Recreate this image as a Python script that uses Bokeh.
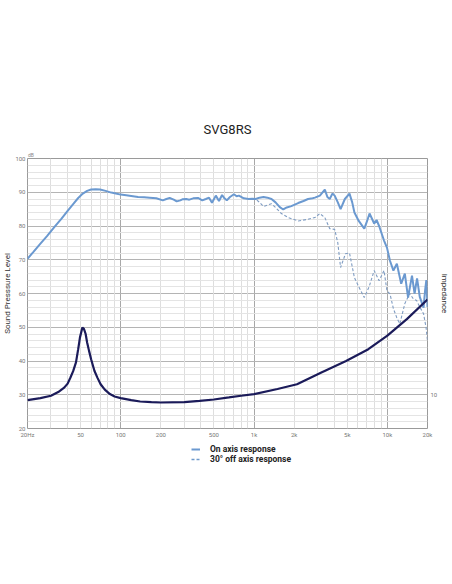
from bokeh.plotting import figure
from bokeh.layouts import column
from bokeh.models import (Range1d, FixedTicker, LinearAxis, LogAxis, Grid, Legend, LegendItem, Title)
from bokeh.embed import file_html
from bokeh.resources import INLINE

# ---------------- data ----------------
title_text = "SVG8RS"

on_freq = [20, 22, 25, 28, 32, 36, 40, 44, 48, 52, 56, 60, 65, 70, 77, 85, 92, 100, 110, 120,
           135, 150, 165, 185, 207, 220, 233, 250, 263, 280, 290, 310, 327, 350, 380, 409, 435,
           460, 484, 517, 546, 576, 600, 625, 660, 707, 740, 770, 838, 910, 970, 1028, 1100,
           1178, 1260, 1352, 1450, 1560, 1656, 1760, 1904, 2143, 2350, 2541, 2750, 2862, 3118,
           3396, 3550, 3697, 3870, 4026, 4250, 4458, 4800, 5200, 5450, 5662, 6100, 6714, 7050,
           7350, 7700, 7962, 8300, 8670, 9440, 9932, 10460, 11100, 11780, 12700, 13520, 14300,
           15300, 16000, 16700, 17500, 18680, 19200, 19600, 20000]
on_spl = [70.3, 72.2, 74.8, 77.0, 79.8, 82.2, 84.5, 86.5, 88.3, 89.6, 90.4, 90.8, 90.9, 90.8,
          90.4, 89.9, 89.6, 89.3, 89.1, 88.9, 88.6, 88.5, 88.4, 88.2, 87.6, 88.0, 88.3, 87.8,
          87.3, 87.6, 87.9, 88.0, 87.8, 88.2, 88.3, 87.6, 88.0, 88.4, 86.9, 89.0, 87.4, 89.2,
          88.2, 87.6, 88.6, 89.4, 88.8, 89.0, 88.2, 88.0, 88.1, 88.0, 88.4, 88.6, 88.4, 88.0,
          87.0, 85.6, 84.9, 85.5, 85.9, 86.8, 87.4, 88.0, 88.2, 88.4, 89.0, 90.8, 88.6, 88.0,
          89.6, 89.0, 87.0, 85.0, 88.0, 89.6, 87.0, 84.0, 81.5, 79.2, 81.5, 83.7, 82.0, 80.7,
          81.8, 80.0, 75.7, 73.6, 69.7, 66.8, 68.8, 62.9, 65.9, 58.8, 65.3, 60.0, 64.5, 59.0,
          55.8, 61.0, 64.0, 56.0]

off_freq = [970, 1028, 1100, 1178, 1260, 1352, 1450, 1603, 1806, 2143, 2541, 2862, 3118, 3396,
            3697, 4026, 4250, 4458, 4854, 5200, 5662, 6100, 6714, 7300, 7962, 8670, 9440, 9932,
            10460, 11100, 11780, 12400, 13520, 14720, 15600, 16580, 17500, 18680, 19500, 20000]
off_spl = [88.1, 88.0, 87.0, 85.8, 86.2, 86.6, 85.5, 83.7, 82.5, 81.5, 82.0, 82.5, 83.7, 82.5,
           79.2, 79.0, 75.0, 67.7, 71.8, 72.0, 64.7, 62.0, 58.8, 62.0, 66.8, 63.8, 66.8, 60.8,
           59.9, 55.5, 52.8, 51.0, 57.0, 60.0, 58.5, 57.9, 56.0, 54.0, 50.0, 46.0]

imp_freq = [20, 25, 30, 34, 37.7, 40, 42, 44, 46.2, 48, 49.5, 51.6, 53, 54.6, 56, 57.9, 60,
            63.5, 67, 70.7, 76, 83, 90, 100, 120, 140, 170, 200, 300, 390, 500, 648, 800, 1000,
            1500, 2100, 3200, 4900, 7200, 10000, 14000, 20000]
imp_ohm = [8.4, 9.0, 9.7, 10.8, 12.1, 13.3, 15.1, 17.0, 19.6, 23.5, 27.0, 29.9, 29.5, 28.0,
           25.5, 23.0, 20.5, 17.1, 15.0, 13.1, 11.5, 10.2, 9.5, 9.0, 8.4, 8.0, 7.8, 7.7, 7.8,
           8.2, 8.6, 9.2, 9.7, 10.2, 11.7, 13.1, 16.6, 20.0, 23.5, 27.5, 32.4, 38.2]

x_ticks = [20, 50, 100, 200, 500, 1000, 2000, 5000, 10000, 20000]
x_tick_labels = ["20Hz", "50", "100", "200", "500", "1k", "2k", "5k", "10k", "20k"]
x_major_grid = [100, 1000, 10000]
x_minor_grid = [30, 40, 50, 60, 70, 80, 90, 200, 300, 400, 500, 600, 700, 800, 900,
                2000, 3000, 4000, 5000, 6000, 7000, 8000, 9000]
y_ticks = [20, 30, 40, 50, 60, 70, 80, 90, 100]
y_minor_grid = [v for v in range(22, 100, 2) if v % 10 != 0]
imp_ticks = [10]
unit_tick = [21.2]
unit_label = "dB"

series_names = ["On axis response", "30° off axis response"]
spl_label = "Sound Presssure Level"
imp_label = "Impedance"

# ---------------- styles ----------------
FONT = "Roboto"
ON_STYLE = dict(line_color="#6b99d0", line_width=2.0)
OFF_STYLE = dict(line_color="#7f9cc2", line_width=1.1, line_dash="3 2")
IMP_STYLE = dict(line_color="#1b1b5a", line_width=2.2)

# ---------------- main figure ----------------
p = figure(width=452, height=440, x_axis_type="log",
           x_range=Range1d(20, 20000), y_range=Range1d(20, 100),
           output_backend="svg", toolbar_location=None,
           min_border_left=26, min_border_right=20, min_border_top=158, min_border_bottom=12)
p.extra_y_ranges = {"imp": Range1d(0, 80)}
p.background_fill_color = "white"
p.border_fill_color = "white"
p.outline_line_color = "#9a9a9a"
p.outline_line_width = 1

p.title = Title(text=title_text, align="center", text_font=FONT, text_font_size="13px",
                text_color="#222222", text_font_style="normal", standoff=24, offset=0)

# grids
p.xgrid.ticker = FixedTicker(ticks=x_major_grid)
p.xgrid.grid_line_color = "#a8a8a8"
p.ygrid.ticker = FixedTicker(ticks=y_ticks)
p.ygrid.grid_line_color = "#b4b4b4"
p.add_layout(Grid(dimension=0, ticker=FixedTicker(ticks=x_minor_grid),
                  grid_line_color="#dedede", grid_line_width=1, level="underlay"))
p.add_layout(Grid(dimension=1, ticker=FixedTicker(ticks=y_minor_grid),
                  grid_line_color="#e4e4e4", grid_line_width=1, level="underlay"))

# axes
def style_axis(ax):
    ax.major_tick_line_color = None
    ax.minor_tick_line_color = None
    ax.major_tick_out = 0
    ax.major_tick_in = 0
    ax.minor_tick_out = 0
    ax.minor_tick_in = 0
    ax.axis_line_color = None
    ax.major_label_text_font = FONT
    ax.major_label_text_font_size = "6px"
    ax.major_label_text_color = "#777777"
    ax.major_label_standoff = 2
    ax.axis_label_text_font = FONT
    ax.axis_label_text_font_size = "8px"
    ax.axis_label_text_color = "#333333"
    ax.axis_label_text_font_style = "normal"

p.xaxis.ticker = FixedTicker(ticks=x_ticks, minor_ticks=[])
p.xaxis.major_label_overrides = {t: l for t, l in zip(x_ticks, x_tick_labels)}
style_axis(p.xaxis[0])
p.yaxis.ticker = FixedTicker(ticks=y_ticks, minor_ticks=[])
style_axis(p.yaxis[0])
p.yaxis.axis_label = spl_label
p.yaxis.axis_label_standoff = 0

rax = LinearAxis(y_range_name="imp", ticker=FixedTicker(ticks=imp_ticks, minor_ticks=[]))
style_axis(rax)
rax.major_label_standoff = 3
rax.axis_label = imp_label
rax.axis_label_standoff = 0
p.add_layout(rax, "right")

tax = LogAxis(ticker=FixedTicker(ticks=unit_tick, minor_ticks=[]))
style_axis(tax)
tax.major_label_overrides = {unit_tick[0]: unit_label}
tax.major_label_text_font_size = "5px"
tax.major_label_text_color = "#888888"
tax.major_label_standoff = 1
p.add_layout(tax, "above")

# curves
p.line(off_freq, off_spl, **OFF_STYLE)
p.line(on_freq, on_spl, **ON_STYLE)
p.line(imp_freq, imp_ohm, y_range_name="imp", **IMP_STYLE)

# ---------------- legend strip below ----------------
# the same series are drawn here, outside this strip's visible range, only so that
# the legend can show their line styles
lg = figure(width=452, height=32, x_range=Range1d(0, 1), y_range=Range1d(0, 1),
            x_axis_location=None, y_axis_location=None, output_backend="svg",
            toolbar_location=None, min_border=0, title=None)
lg.outline_line_color = None
lg.grid.visible = False
lg.background_fill_color = "white"
lg.border_fill_color = "white"
d_on = lg.line(on_freq, on_spl, **ON_STYLE)
d_off = lg.line(off_freq, off_spl, line_color="#6f9acb", line_width=1.5, line_dash="3 2")

legend = Legend(items=[LegendItem(label=series_names[0], renderers=[d_on]),
                       LegendItem(label=series_names[1], renderers=[d_off])],
                location=(164, 8), orientation="vertical",
                padding=3, margin=0, spacing=-1, label_height=10, glyph_height=10,
                glyph_width=9, label_standoff=10,
                border_line_color=None, background_fill_alpha=0,
                label_text_font=FONT, label_text_font_size="8.5px",
                label_text_color="#222222", label_text_font_style="bold")
lg.add_layout(legend, "center")

page = column(p, lg, spacing=0)
open("out.html", "w").write(file_html(page, INLINE))
